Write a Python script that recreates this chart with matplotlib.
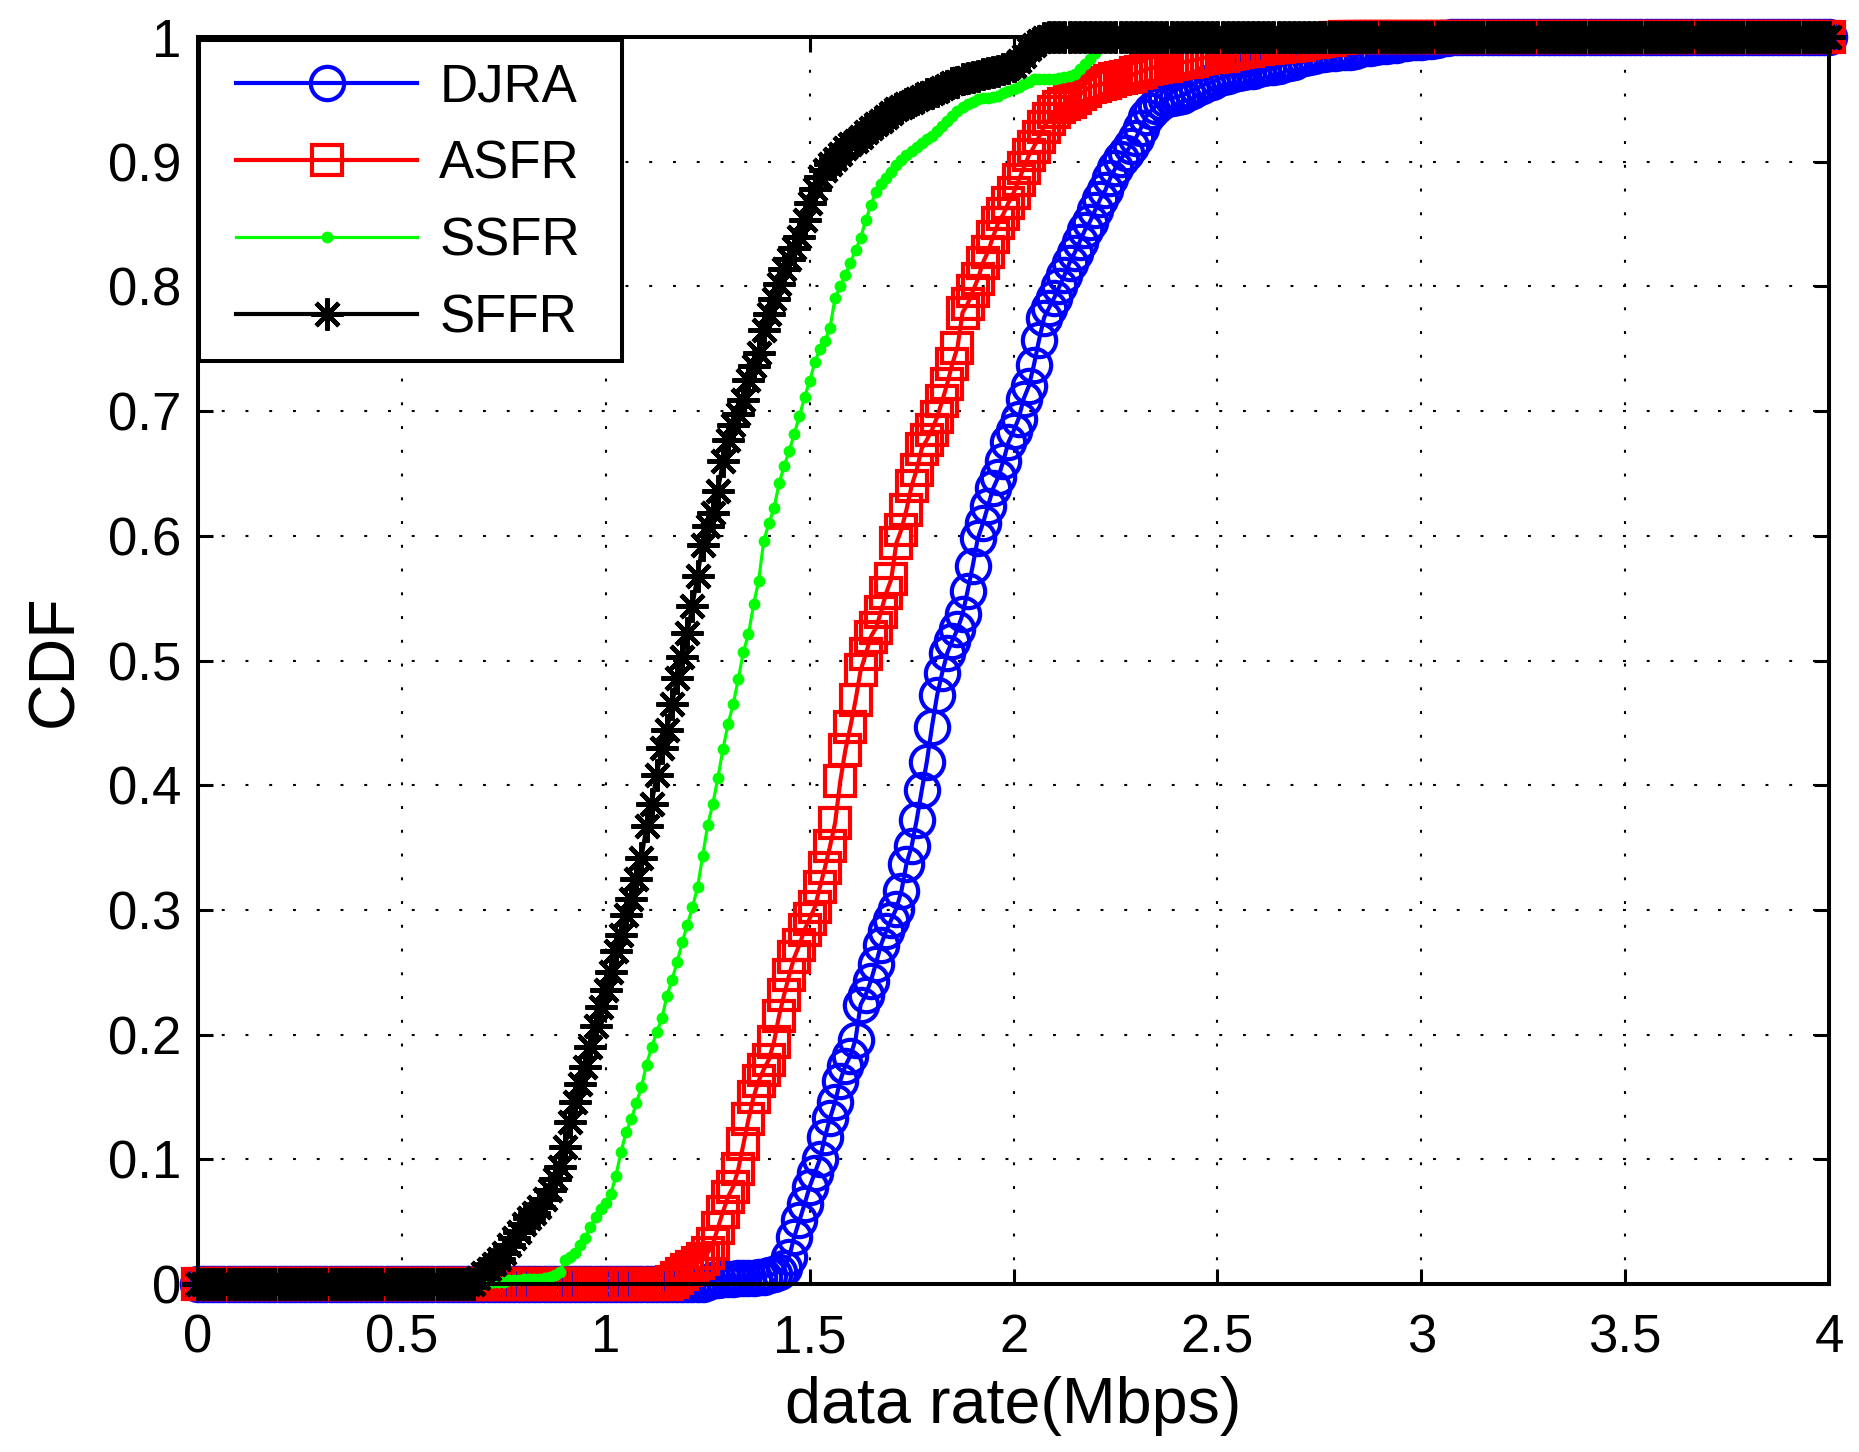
import numpy as np
import matplotlib
matplotlib.use('Agg')
import matplotlib.pyplot as plt
from matplotlib.patches import Rectangle

plt.rcParams['font.family'] = ['Liberation Sans', 'DejaVu Sans']

# CDF sampled on an even data-rate grid (Mbps); below the listed part the CDF is 0, above it 1
grid_step = 0.0125
rate_grid = np.linspace(0, 4, 321)

djra_start = 1.25
djra_rise = [
    0.002, 0.003, 0.003, 0.004, 0.004, 0.004, 0.005, 0.005, 0.005, 0.005,
    0.006, 0.006, 0.007, 0.008, 0.010, 0.013, 0.022, 0.038, 0.051, 0.064,
    0.078, 0.089, 0.100, 0.118, 0.133, 0.146, 0.163, 0.175, 0.183, 0.196,
    0.224, 0.232, 0.243, 0.257, 0.272, 0.283, 0.292, 0.301, 0.315, 0.337,
    0.351, 0.372, 0.396, 0.419, 0.447, 0.472, 0.490, 0.506, 0.516, 0.525,
    0.537, 0.556, 0.576, 0.598, 0.610, 0.624, 0.638, 0.647, 0.660, 0.675,
    0.684, 0.694, 0.710, 0.720, 0.737, 0.757, 0.775, 0.783, 0.791, 0.800,
    0.809, 0.819, 0.827, 0.836, 0.845, 0.852, 0.861, 0.870, 0.877, 0.887,
    0.895, 0.902, 0.907, 0.913, 0.919, 0.927, 0.936, 0.941, 0.945, 0.948,
    0.950, 0.951, 0.952, 0.953, 0.955, 0.957, 0.959, 0.961, 0.963, 0.964,
    0.966, 0.968, 0.969, 0.970, 0.971, 0.972, 0.973, 0.973, 0.974, 0.975,
    0.976, 0.976, 0.977, 0.978, 0.979, 0.980, 0.982, 0.983, 0.984, 0.985,
    0.986, 0.986, 0.987, 0.987, 0.988, 0.988, 0.988, 0.989, 0.990, 0.991,
    0.991, 0.992, 0.993, 0.993, 0.994, 0.994, 0.995, 0.995, 0.996, 0.996,
    0.996, 0.997, 0.997, 0.998, 0.999, 0.999]

asfr_start = 1.1625
asfr_rise = [
    0.002, 0.005, 0.008, 0.011, 0.014, 0.017, 0.020, 0.025, 0.032, 0.045,
    0.058, 0.070, 0.078, 0.092, 0.112, 0.132, 0.150, 0.163, 0.172, 0.180,
    0.194, 0.215, 0.232, 0.248, 0.262, 0.272, 0.284, 0.293, 0.302, 0.318,
    0.334, 0.351, 0.370, 0.403, 0.428, 0.447, 0.468, 0.492, 0.505, 0.519,
    0.526, 0.539, 0.554, 0.565, 0.594, 0.605, 0.621, 0.640, 0.653, 0.670,
    0.677, 0.685, 0.695, 0.708, 0.722, 0.738, 0.751, 0.779, 0.786, 0.796,
    0.806, 0.819, 0.828, 0.840, 0.851, 0.858, 0.867, 0.875, 0.885, 0.895,
    0.905, 0.912, 0.920, 0.928, 0.934, 0.940, 0.944, 0.946, 0.948, 0.951,
    0.954, 0.957, 0.960, 0.961, 0.962, 0.963, 0.965, 0.966, 0.967, 0.968,
    0.969, 0.971, 0.972, 0.974, 0.975, 0.976, 0.977, 0.977, 0.978, 0.979,
    0.980, 0.980, 0.981, 0.982, 0.983, 0.984, 0.984, 0.985, 0.985, 0.986,
    0.987, 0.988, 0.989, 0.989, 0.990, 0.990, 0.991, 0.991, 0.992, 0.992,
    0.993, 0.993, 0.994, 0.994, 0.995, 0.996, 0.996, 0.997, 0.998, 0.998,
    0.999, 0.999]

ssfr_start = 0.7
ssfr_rise = [
    0.000, 0.001, 0.002, 0.002, 0.002, 0.003, 0.003, 0.003, 0.004, 0.004,
    0.004, 0.004, 0.005, 0.006, 0.007, 0.010, 0.019, 0.022, 0.025, 0.031,
    0.037, 0.046, 0.054, 0.060, 0.065, 0.072, 0.087, 0.106, 0.122, 0.132,
    0.145, 0.158, 0.176, 0.190, 0.202, 0.213, 0.231, 0.244, 0.258, 0.274,
    0.288, 0.302, 0.318, 0.343, 0.368, 0.385, 0.406, 0.429, 0.449, 0.465,
    0.485, 0.507, 0.521, 0.545, 0.564, 0.596, 0.610, 0.622, 0.642, 0.656,
    0.668, 0.682, 0.696, 0.711, 0.724, 0.739, 0.750, 0.756, 0.767, 0.791,
    0.800, 0.809, 0.819, 0.829, 0.839, 0.853, 0.865, 0.876, 0.882, 0.887,
    0.892, 0.897, 0.901, 0.905, 0.909, 0.912, 0.915, 0.918, 0.921, 0.925,
    0.929, 0.933, 0.937, 0.941, 0.944, 0.946, 0.948, 0.950, 0.951, 0.951,
    0.952, 0.953, 0.955, 0.957, 0.958, 0.960, 0.962, 0.964, 0.966, 0.966,
    0.966, 0.966, 0.966, 0.967, 0.968, 0.969, 0.970, 0.974, 0.978, 0.982,
    0.987, 0.992, 0.997]

sffr_start = 0.675
sffr_rise = [
    0.000, 0.005, 0.009, 0.012, 0.016, 0.020, 0.025, 0.031, 0.037, 0.042,
    0.048, 0.053, 0.057, 0.062, 0.068, 0.075, 0.084, 0.094, 0.110, 0.130,
    0.146, 0.160, 0.174, 0.190, 0.207, 0.222, 0.236, 0.250, 0.267, 0.280,
    0.296, 0.309, 0.325, 0.342, 0.367, 0.385, 0.408, 0.430, 0.444, 0.465,
    0.486, 0.503, 0.522, 0.544, 0.568, 0.593, 0.608, 0.618, 0.636, 0.660,
    0.677, 0.689, 0.698, 0.709, 0.725, 0.736, 0.747, 0.765, 0.778, 0.790,
    0.802, 0.814, 0.822, 0.831, 0.840, 0.853, 0.867, 0.878, 0.888, 0.893,
    0.898, 0.902, 0.906, 0.911, 0.914, 0.917, 0.920, 0.924, 0.927, 0.930,
    0.933, 0.936, 0.939, 0.942, 0.944, 0.946, 0.948, 0.950, 0.952, 0.954,
    0.955, 0.957, 0.959, 0.961, 0.963, 0.964, 0.966, 0.967, 0.968, 0.969,
    0.970, 0.971, 0.972, 0.973, 0.974, 0.975, 0.977, 0.981, 0.985, 0.990,
    0.994, 0.997, 0.999]

x_ticks = [0, 0.5, 1, 1.5, 2, 2.5, 3, 3.5, 4]
x_tick_labels = ['0', '0.5', '1', '1.5', '2', '2.5', '3', '3.5', '4']
y_ticks = [0, 0.1, 0.2, 0.3, 0.4, 0.5, 0.6, 0.7, 0.8, 0.9, 1]
y_tick_labels = ['0', '0.1', '0.2', '0.3', '0.4', '0.5', '0.6', '0.7', '0.8', '0.9', '1']


def full_cdf(start, rise):
    i0 = int(round(start / grid_step))
    y = np.ones(len(rate_grid))
    y[:i0] = 0.0
    y[i0:i0 + len(rise)] = rise
    return y


fig = plt.figure(figsize=(18.59, 14.52), dpi=100)
ax = fig.add_axes([0.1065, 0.1157, 0.8774, 0.8588])

ax.plot(rate_grid, full_cdf(djra_start, djra_rise), '-o', color=(0, 0, 1), lw=3,
        ms=24, mfc='none', mew=3, clip_on=False, label='DJRA')
ax.plot(rate_grid, full_cdf(asfr_start, asfr_rise), '-s', color=(1, 0, 0), lw=3,
        ms=21, mfc='none', mew=3, clip_on=False, label='ASFR')
ax.plot(rate_grid, full_cdf(ssfr_start, ssfr_rise), '-o', color=(0, 1, 0), lw=2.3,
        ms=8.5, mew=0, clip_on=False, label='SSFR')
ax.plot(rate_grid, full_cdf(sffr_start, sffr_rise), '-', marker=(8, 2, 0), color='k',
        lw=3, ms=23, mew=3.3, clip_on=False, label='SFFR')

ax.set_xlim(0, 4)
ax.set_ylim(0, 1)
ax.set_xticks(x_ticks)
ax.set_xticklabels(x_tick_labels)
ax.set_yticks(y_ticks)
ax.set_yticklabels(y_tick_labels)
ax.tick_params(direction='in', length=10.8, width=2.2, top=True, right=True,
               labelsize=38, colors='k')
ax.tick_params(axis='x', pad=21)
ax.tick_params(axis='y', pad=12)
for sp in ax.spines.values():
    sp.set_linewidth(2.9)
ax.grid(True, color='k', linestyle=(0, (1.4, 10)), lw=1.5)

ax.set_xlabel('data rate(Mbps)', fontsize=46.5)
ax.xaxis.set_label_coords(0.5, -0.0738)
ax.set_ylabel('CDF', fontsize=46.5)
ax.yaxis.set_label_coords(-0.0693, 0.5)

# legend box drawn by hand so the padding matches
frame = Rectangle((199 / 1859, 1 - 361 / 1452), 423 / 1859, 321 / 1452,
                  transform=fig.transFigure, facecolor='white', edgecolor='k',
                  lw=2.9, zorder=4.5, clip_on=False)
ax.add_patch(frame)
ax.legend(loc='upper left', bbox_to_anchor=(236 / 1859, 1 - 62.5 / 1452),
          bbox_transform=fig.transFigure, frameon=False, fontsize=38,
          borderpad=0, borderaxespad=0, handlelength=3.43, handletextpad=0.42,
          labelspacing=0.51, numpoints=1)

fig.savefig('out.png', dpi=100)
